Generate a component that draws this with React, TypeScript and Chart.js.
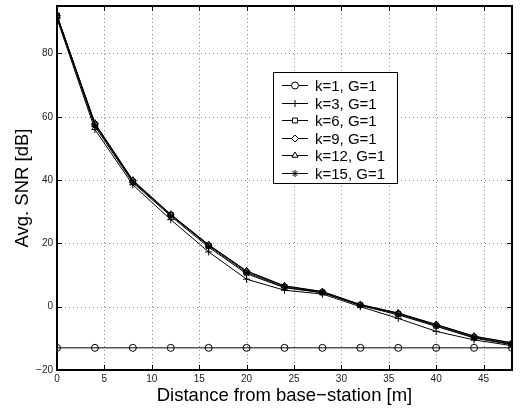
import React, { useEffect, useRef } from "react";
import { Chart, registerables } from "chart.js";
import { drawPoint } from "chart.js/helpers";

Chart.register(...registerables);

const distances = [0, 4, 8, 12, 16, 20, 24, 28, 32, 36, 40, 44, 48];
const seriesLabels = ["k=1, G=1", "k=3, G=1", "k=6, G=1", "k=9, G=1", "k=12, G=1", "k=15, G=1"];
const seriesMarkers = ["circle", "cross", "rect", "rectRot", "triangle", "star"];
const k1 = [-13, -13, -13, -13, -13, -13, -13, -13, -13, -13, -13, -13, -13];
const k3 = [91, 56, 38.5, 27.5, 17.3, 8.7, 5.2, 4, 0, -3.7, -7.8, -10.5, -12.3];
const k6 = [92, 57.5, 39.5, 29, 19.2, 10.8, 6.2, 4.5, 0.5, -2.3, -6, -9.7, -11.8];
const k9 = [92, 57.8, 39.8, 29, 19.5, 11.2, 6.5, 4.7, 0.6, -2.1, -5.7, -9.4, -11.5];
const k12 = [92, 58, 40, 29.2, 19.6, 11.3, 6.6, 4.8, 0.7, -2, -5.6, -9.3, -11.4];
const k15 = [91.5, 57, 39.2, 28.6, 18.8, 10.4, 6, 4.4, 0.4, -2.6, -6.2, -9.9, -12];
const seriesValues = [k1, k3, k6, k9, k12, k15];
const xTicks = [0, 5, 10, 15, 20, 25, 30, 35, 40, 45];
const yTicks = [-20, 0, 20, 40, 60, 80];

const FONT = "'Liberation Sans', Arial, Helvetica, sans-serif";

const gridPlugin = {
  id: "dottedGrid",
  beforeDatasetsDraw(chart: any) {
    const { ctx, chartArea } = chart;
    const { left, right, top, bottom } = chartArea;
    const xs = chart.scales.x;
    const ys = chart.scales.y;
    ctx.save();
    ctx.strokeStyle = "#8a8a8a";
    ctx.lineWidth = 1;
    ctx.setLineDash([1, 3]);
    ctx.beginPath();
    for (const t of xTicks) {
      const px = Math.round(xs.getPixelForValue(t)) + 0.5;
      ctx.moveTo(px, top);
      ctx.lineTo(px, bottom);
    }
    for (const t of yTicks) {
      const py = Math.round(ys.getPixelForValue(t)) + 0.5;
      ctx.moveTo(left, py);
      ctx.lineTo(right, py);
    }
    ctx.stroke();
    ctx.restore();
  },
};

const boxPlugin = {
  id: "matlabBox",
  afterDraw(chart: any) {
    const { ctx, chartArea } = chart;
    const { left, right, top, bottom } = chartArea;
    const xs = chart.scales.x;
    const ys = chart.scales.y;
    ctx.save();
    ctx.strokeStyle = "#000";
    ctx.lineWidth = 1;
    const tl = 5;
    ctx.beginPath();
    for (const t of xTicks) {
      const px = Math.round(xs.getPixelForValue(t)) + 0.5;
      ctx.moveTo(px, bottom);
      ctx.lineTo(px, bottom - tl);
      ctx.moveTo(px, top);
      ctx.lineTo(px, top + tl);
    }
    for (const t of yTicks) {
      const py = Math.round(ys.getPixelForValue(t)) + 0.5;
      ctx.moveTo(left, py);
      ctx.lineTo(left + tl, py);
      ctx.moveTo(right, py);
      ctx.lineTo(right - tl, py);
    }
    ctx.stroke();
    ctx.lineWidth = 2;
    ctx.strokeRect(left, top, right - left, bottom - top);

    // legend
    const lx = 273, ly = 72, lw = 124, lh = 111;
    ctx.fillStyle = "#fff";
    ctx.fillRect(lx, ly, lw, lh);
    ctx.lineWidth = 1;
    ctx.strokeStyle = "#000";
    ctx.strokeRect(lx + 0.5, ly + 0.5, lw, lh);
    ctx.font = `15px ${FONT}`;
    ctx.textBaseline = "middle";
    ctx.textAlign = "left";
    seriesLabels.forEach((lab, i) => {
      const y = Math.round(ly + 13 + i * 17.5) + 0.5;
      ctx.strokeStyle = "#000";
      ctx.lineWidth = 1;
      ctx.beginPath();
      ctx.moveTo(lx + 9, y);
      ctx.lineTo(lx + 35, y);
      ctx.stroke();
      ctx.fillStyle = "#fff";
      drawPoint(ctx, { pointStyle: seriesMarkers[i], radius: 3.5, borderWidth: 1, rotation: 0 } as any, lx + 22, y);
      ctx.fillStyle = "#000";
      ctx.fillText(lab, lx + 42, y + 1);
    });
    ctx.restore();
  },
};

export default function App() {
  const ref = useRef<HTMLCanvasElement | null>(null);
  useEffect(() => {
    if (!ref.current) return;
    const chart = new Chart(ref.current, {
      type: "line",
      data: {
        datasets: seriesValues.map((vals, i) => ({
          label: seriesLabels[i],
          data: vals.map((v, j) => ({ x: distances[j], y: v })),
          borderColor: "#000",
          borderWidth: 1,
          pointStyle: seriesMarkers[i] as any,
          pointRadius: 3.5,
          pointBorderWidth: 1,
          pointBorderColor: "#000",
          pointBackgroundColor: "rgba(0,0,0,0)",
          fill: false,
          tension: 0,
        })),
      },
      options: {
        animation: false,
        responsive: true,
        maintainAspectRatio: false,
        layout: { padding: { left: 0, right: 17, top: 6, bottom: 0 } },
        plugins: { legend: { display: false }, tooltip: { enabled: false } },
        scales: {
          x: {
            type: "linear",
            min: 0,
            max: 48,
            afterBuildTicks: (s: any) => {
              s.ticks = xTicks.map((v) => ({ value: v }));
            },
            afterFit: (s: any) => {
              s.height = 40;
              s.paddingLeft = 0;
              s.paddingRight = 0;
            },
            grid: { display: false, drawTicks: false },
            border: { display: false },
            ticks: { font: { family: FONT, size: 10 }, color: "#222", padding: 3, maxRotation: 0 },
            title: {
              display: true,
              text: "Distance from base\u2212station [m]",
              font: { family: FONT, size: 18.5 },
              color: "#000",
              padding: { top: 0, bottom: 2.5 },
            },
          },
          y: {
            type: "linear",
            min: -20,
            max: 95,
            afterBuildTicks: (s: any) => {
              s.ticks = yTicks.map((v) => ({ value: v }));
            },
            afterFit: (s: any) => {
              s.width = 57;
              s.paddingTop = 0;
              s.paddingBottom = 0;
            },
            grid: { display: false, drawTicks: false },
            border: { display: false },
            ticks: {
              font: { family: FONT, size: 10 },
              color: "#222",
              padding: 4,
              callback: (v: any) => (Number(v) < 0 ? "\u2212" + Math.abs(Number(v)) : String(v)),
            },
            title: {
              display: true,
              text: "Avg. SNR [dB]",
              font: { family: FONT, size: 18.5 },
              color: "#000",
              padding: { top: 12, bottom: 0 },
            },
          },
        },
      },
      plugins: [gridPlugin, boxPlugin],
    });
    return () => chart.destroy();
  }, []);
  return (
    <div style={{ position: "fixed", left: 0, top: 0, width: 529, height: 410, background: "#fff" }}>
      <canvas ref={ref} />
    </div>
  );
}
